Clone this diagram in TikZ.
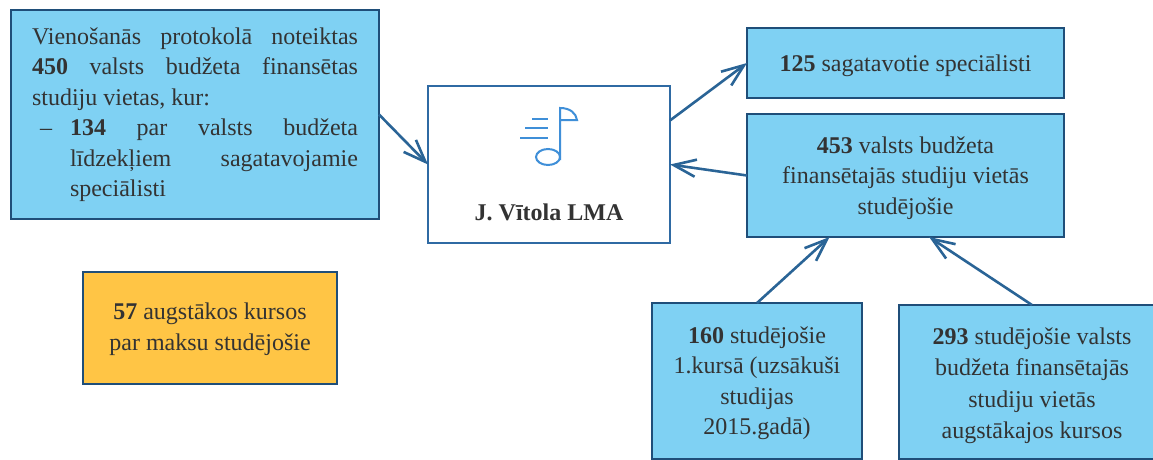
\documentclass[tikz,border=0pt]{standalone}
\usepackage{fontspec}
\setmainfont{Liberation Serif}
\usetikzlibrary{arrows.meta}
\definecolor{boxblue}{HTML}{7FD1F3}
\definecolor{boxedge}{HTML}{1F4E79}
\definecolor{schooledge}{HTML}{2F6AA3}
\definecolor{linkblue}{HTML}{2A6496}
\definecolor{boxgold}{HTML}{FFC545}
\definecolor{iconblue}{HTML}{3F8FD8}
\definecolor{inktext}{HTML}{333333}
\newcommand{\headroom}[1]{\rule{0pt}{#1}}
\tikzset{
	every path/.style={line width=2.6pt},
	every node/.style={
		font=\fontsize{24}{30.5}\selectfont,
		text=inktext,
		inner sep=0pt,
		outer sep=0pt,
	},
	info/.style={
		draw=boxedge,
		fill=boxblue,
		rectangle,
		align=center,
	},
	paid/.style={
		info,
		fill=boxgold,
	},
	school/.style={
		draw=schooledge,
		fill=white,
		rectangle,
	},
	link/.style={
		draw=linkblue,
		-{Straight Barb[angle=42:24pt 0,line width=2.6pt]},
	},
	icon/.style={
		draw=iconblue,
		line width=2pt,
	},
}
\begin{document}
\begin{tikzpicture}[x=1pt,y=-1pt]
	\useasboundingbox (0,0) rectangle (1153,460);

	\node[info,minimum width=368pt,minimum height=209pt,text width=326pt,align=justify] (protocol) at (195,114.5) {Vienošanās protokolā noteiktas\linebreak \textbf{450} valsts budžeta finansētas\linebreak studiju vietas, kur:\par\leavevmode\hangindent=38pt\hangafter=0\llap{--\hspace{18pt}}\textbf{134} par valsts budžeta\linebreak līdzekļiem sagatavojamie\linebreak speciālisti\par};
	\node[paid,minimum width=254pt,minimum height=112pt] (paying) at (210,328) {\headroom{19pt}\textbf{57} augstākos kursos\\par maksu studējošie};

	\node[school,minimum width=242pt,minimum height=157pt] (lma) at (549,164.5) {};
	\node (lmaname) at (549,212) {\textbf{J. Vītola LMA}};

	\node[info,minimum width=317pt,minimum height=70pt] (trained) at (905.5,63) {\headroom{23pt}\textbf{125} sagatavotie speciālisti};
	\node[info,minimum width=317pt,minimum height=123pt] (places) at (905.5,175.5) {\headroom{22pt}\textbf{453} valsts budžeta\\finansētajās studiju vietās\\studējošie};

	\node[info,minimum width=210pt,minimum height=156pt] (first) at (757,381) {\headroom{21pt}\textbf{160} studējošie\\1.kursā (uzsākuši\\studijas\\2015.gadā)};
	\node[info,minimum width=266pt,minimum height=154pt] (upper) at (1032,382) {\headroom{24pt}\textbf{293} studējošie valsts\\[1pt]budžeta finansētajās\\[1pt]studiju vietās\\[1pt]augstākajos kursos};

	\draw[link] (protocol.east) -- (lma.west);
	\draw[link] (lma.20) -- (trained.west);
	\draw[link] (places.west) -- (lma.east);
	\draw[link] (first.north) -- (places.219);
	\draw[link] (upper.north) -- (places.291);

	% note icon
	\draw[icon] (560,160) -- (560,108) .. controls (570,108) and (576,113) .. (577,120) -- (560,120);
	\draw[icon] (548,157) ellipse (12pt and 8pt);
	\draw[icon] (532,119) -- (548,119);
	\draw[icon] (525,128) -- (548,128);
	\draw[icon] (520,138) -- (548,138);
\end{tikzpicture}
\end{document}
